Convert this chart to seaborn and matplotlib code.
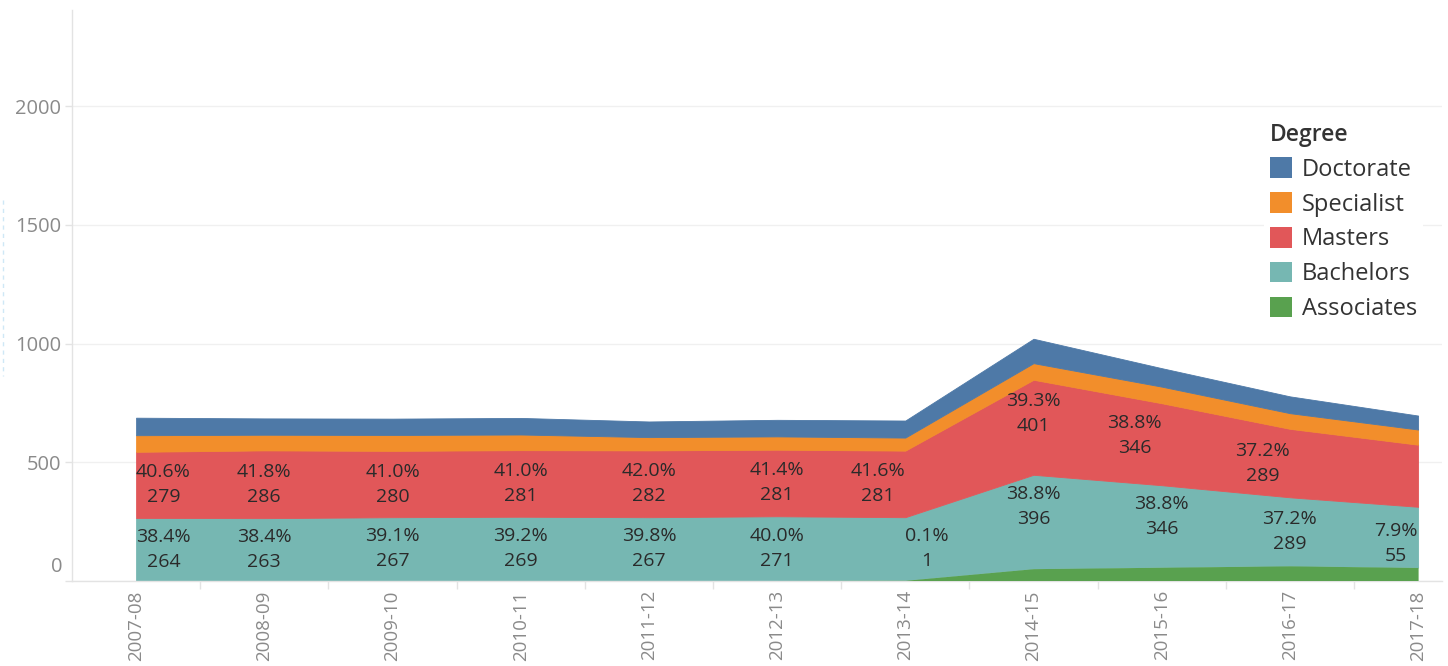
import matplotlib
matplotlib.use('Agg')
import matplotlib.pyplot as plt
import seaborn as sns
import numpy as np
import pandas as pd
from matplotlib.patches import Patch
from matplotlib.lines import Line2D

# ---------------- data ----------------
years = ['2007-08', '2008-09', '2009-10', '2010-11', '2011-12', '2012-13',
         '2013-14', '2014-15', '2015-16', '2016-17', '2017-18']
associates = [0, 0, 0, 0, 0, 0, 1, 50, 56, 62, 55]
bachelors = [264, 263, 267, 269, 267, 271, 266, 396, 346, 289, 256]
masters = [279, 286, 280, 281, 282, 281, 281, 401, 346, 289, 262]
specialist = [70, 66, 67, 66, 56, 56, 55, 70, 70, 66, 64]
doctorate = [74, 69, 69, 70, 66, 70, 72, 103, 78, 71, 59]

degrees = ['Associates', 'Bachelors', 'Masters', 'Specialist', 'Doctorate']
legend_order = ['Doctorate', 'Specialist', 'Masters', 'Bachelors', 'Associates']

masters_pct = ['40.6%', '41.8%', '41.0%', '41.0%', '42.0%', '41.4%', '41.6%', '39.3%', '38.8%', '37.2%', None]
masters_cnt = ['279', '286', '280', '281', '282', '281', '281', '401', '346', '289', None]
bachelors_pct = ['38.4%', '38.4%', '39.1%', '39.2%', '39.8%', '40.0%', None, '38.8%', '38.8%', '37.2%', None]
bachelors_cnt = ['264', '263', '267', '269', '267', '271', None, '396', '346', '289', None]
associates_pct = [None, None, None, None, None, None, '0.1%', None, None, None, '7.9%']
associates_cnt = [None, None, None, None, None, None, '1', None, None, None, '55']

# ---------------- label layout (styling) ----------------
masters_anchor = ['left', 'center', 'center', 'center', 'center', 'center', 'right', 'center', 'right', 'right', None]
bachelors_anchor = ['left', 'center', 'center', 'center', 'center', 'center', None, 'center', 'center', 'center', None]
associates_anchor = [None, None, None, None, None, None, 'left', None, None, None, 'right']
masters_nudge_px = [0, 0, 0, 0, 0, 0, 0, 14, 9, 0, 0]
bachelors_nudge_px = [0, 0, 0, 0, 0, 0, 0, 15, 10, 0, 0]

colors = ['#59a14f', '#76b7b2', '#e15759', '#f28e2b', '#4e79a7']

# ---------------- figure ----------------
sns.set_theme(style='white')
plt.rcParams['font.family'] = ['Open Sans', 'DejaVu Sans']
palette = dict(zip(degrees, sns.color_palette(colors)))

W, H = 1448, 666
fig = plt.figure(figsize=(W / 100, H / 100), dpi=100)
fig.patch.set_facecolor('white')
ax_left, ax_right, ax_bottom, ax_top = 72, 1442, 580.5, 10
ax = fig.add_axes([ax_left / W, 1 - ax_bottom / H, (ax_right - ax_left) / W, (ax_bottom - ax_top) / H])
ax.set_facecolor('white')

df = pd.DataFrame({'year': years, 'Associates': associates, 'Bachelors': bachelors,
                   'Masters': masters, 'Specialist': specialist, 'Doctorate': doctorate})
x = np.arange(len(years))
stack = df[degrees].to_numpy().T.astype(float)
cum = np.cumsum(stack, axis=0)

for i in range(len(degrees)):
    lower = cum[i - 1] if i > 0 else np.zeros_like(cum[0])
    col = palette[degrees[i]]
    if i == 0:
        ax.fill_between(x, lower, cum[i], color=col, linewidth=0, zorder=3)
    else:
        ax.fill_between(x, lower, cum[i], facecolor=col, edgecolor=col,
                        linewidth=0.6, zorder=2)

step_px = 128.2
ax.set_xlim(-0.5, -0.5 + (ax_right - ax_left) / step_px)
ax.set_ylim(0, (ax_bottom - ax_top) * 500 / 118.5)

# grid / spines
ax.set_yticks([0, 500, 1000, 1500, 2000])
ax.set_yticklabels(['', '500', '1000', '1500', '2000'])
ax.yaxis.grid(True, color='#f0f0f0', linewidth=1, zorder=0)
ax.xaxis.grid(False)
ax.set_axisbelow(True)
for s in ['top', 'right']:
    ax.spines[s].set_visible(False)
for s in ['left', 'bottom']:
    ax.spines[s].set_color('#e3e3e3')
    ax.spines[s].set_linewidth(1)
ax.tick_params(axis='y', length=5, width=1, color='#e3e3e3', pad=3,
               labelsize=14.5, labelcolor='#8a8a8a', left=True)
ax.annotate('0', xy=(0, 0), xycoords=('axes fraction', 'data'),
            xytext=(-10 * 0.72, 13 * 0.72), textcoords='offset points',
            ha='right', va='center', fontsize=14.5, color='#8a8a8a')

ax.set_xticks(x)
ax.set_xticklabels(years, rotation=90)
ax.set_xticks(x[:-1] + 0.5, minor=True)
ax.tick_params(axis='x', which='major', length=0, pad=7, labelsize=13.5, labelcolor='#8a8a8a', bottom=True)
ax.tick_params(axis='x', which='minor', length=6, width=1, color='#e3e3e3', bottom=True)
for lab in ax.get_xticklabels():
    lab.set_va('top')

# ---------------- inner labels ----------------
def put_label(xi, yc, pct, cnt, anchor, nudge_px=0):
    ax.annotate(f'{pct}\n{cnt}', xy=(xi, yc), xytext=(0, nudge_px * 0.72),
                textcoords='offset points', ha=anchor, va='center',
                multialignment='center', fontsize=14, color='#2a2a2a',
                linespacing=1.5, zorder=5)

for i in range(len(years)):
    if masters_pct[i]:
        yc = (cum[1][i] + cum[2][i]) / 2
        put_label(i, yc, masters_pct[i], masters_cnt[i], masters_anchor[i], masters_nudge_px[i])
    if bachelors_pct[i]:
        yc = (cum[0][i] + cum[1][i]) / 2
        put_label(i, yc, bachelors_pct[i], bachelors_cnt[i], bachelors_anchor[i], bachelors_nudge_px[i])
    if associates_pct[i]:
        yc = cum[1][i] / 2
        put_label(i, yc, associates_pct[i], associates_cnt[i], associates_anchor[i])

# ---------------- legend ----------------
handles = [Patch(facecolor=palette[d], edgecolor='none') for d in legend_order]
leg = ax.legend(handles, legend_order, title='Degree', loc='upper left',
                bbox_to_anchor=(1252 / W, 1 - 105 / H), bbox_transform=fig.transFigure,
                frameon=True, facecolor='white', edgecolor='none', framealpha=1,
                fancybox=False, fontsize=17, title_fontsize=16.5,
                handlelength=0.95, handleheight=0.95, handletextpad=0.4,
                labelspacing=0.45, borderpad=0.25, alignment='left')
leg.get_title().set_fontweight('semibold')
leg.get_title().set_color('#333333')
for t in leg.get_texts():
    t.set_color('#333333')
leg.set_zorder(10)

# faint selection artifact at far left
fig.add_artist(Line2D([3 / W, 3 / W], [1 - 200 / H, 1 - 376 / H], transform=fig.transFigure,
                      color='#cfe8f6', lw=1, ls=(0, (3, 3))))

fig.savefig('out.png', dpi=100)
